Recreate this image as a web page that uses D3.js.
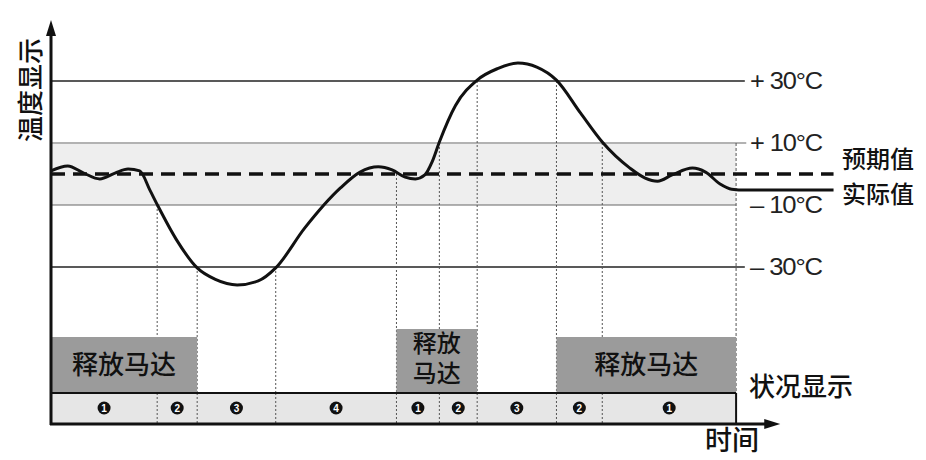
<!DOCTYPE html>
<html>
<head>
<meta charset="utf-8">
<script src="https://cdn.jsdelivr.net/npm/d3@7"></script>
<style>
  body { margin: 0; background: #fff; }
  svg { display: block; }
  .cjk { font-family: "Noto Sans CJK SC", sans-serif; font-weight: 500; fill: #111; }
  .deg { font-family: "Liberation Sans Narrow", "Liberation Sans", sans-serif; fill: #222; }
</style>
</head>
<body>
<div id="plot"></div>
<script>
// actual temperature curve (time in arbitrary units, temperature in deg C)
const curveTime = [0, 2.3, 4.5, 6.7, 8.8, 10.6, 12.2, 13.6, 14.7, 17.2, 20.1, 22.6, 25.6, 28.5, 30.9,
  34.9, 39.8, 42.5, 45.0, 46.9, 48.7, 50.1, 51.4, 52.4, 53.4, 55.6, 58.6, 61.4, 64.2, 66.8, 69.5,
  72.8, 75.8, 79.6, 81.7, 83.4, 85.4, 88.2, 90.0, 92.0, 93.6, 95.5, 100, 107.6];
const curveTemp = [1.0, 2.6, 0.3, -1.6, 0.3, 1.6, 1.0, -5.2, -10.3, -21, -30.3, -34, -35.8, -34.5, -30.3,
  -17.4, -4.5, 0.6, 2.3, 1.3, -1.0, -1.6, -0.3, 3.9, 10.3, 22, 30.3, 34, 35.8, 34.5, 30.3,
  19.7, 10.3, 1.9, -1.3, -2.3, -0.3, 1.9, 0.6, -3.2, -4.9, -5.2, -5.2, -5.2];

const levels = [30, 10, -10, -30];
const levelLabels = ["+ 30°C", "+ 10°C", "– 10°C", "– 30°C"];
const expected = 0;

// phase boundaries on the time axis, with the temperature where each guide starts
const phaseBounds = [0, 14.6, 20.1, 30.9, 47.5, 53.4, 58.6, 69.5, 75.8, 94.2];
const guideTemp = [null, -10, -30, -30, 0, 10, 30, 30, 10, 10];
const phaseLabels = ["1", "2", "3", "4", "1", "2", "3", "2", "1"];

// motor release blocks: [start, end, lines]
const motorStart = [0, 47.5, 69.5];
const motorEnd = [20.1, 58.6, 94.2];
const motorText = [["释放马达"], ["释放", "马达"], ["释放马达"]];

const w = 926, h = 460;
const x = d3.scaleLinear().domain([0, 110]).range([51, 851]);
const y = d3.scaleLinear().domain([-50, 50]).range([329, 19]);

const svg = d3.select("#plot").append("svg").attr("width", w).attr("height", h);

const stripTop = 393, stripBottom = 423;
const xEnd = x(100);

// light band between +10 and -10
svg.append("rect")
  .attr("x", x(0)).attr("y", y(10) + 1)
  .attr("width", x(94.2) - x(0)).attr("height", y(-10) - y(10) - 1)
  .attr("fill", "#eeeeee");

// threshold lines
const lineEnd = [95.4, 95.6, 94.2, 95.4];
svg.selectAll(".level").data(levels).enter().append("line")
  .attr("x1", x(0)).attr("x2", (d, i) => x(lineEnd[i]))
  .attr("y1", d => y(d)).attr("y2", d => y(d))
  .attr("stroke", (d, i) => Math.abs(d) === 30 ? "#222" : "#666")
  .attr("stroke-width", (d) => Math.abs(d) === 30 ? 1.5 : 1.2);

svg.selectAll(".lvl-text").data(levels).enter().append("text")
  .attr("class", "deg")
  .attr("x", 750)
  .attr("y", d => y(d) + 8)
  .attr("font-size", 23)
  .attr("letter-spacing", -1)
  .attr("textLength", 72)
  .attr("lengthAdjust", "spacingAndGlyphs")
  .text((d, i) => levelLabels[i]);

// guide lines down to the status strip
svg.selectAll(".guide").data(phaseBounds.slice(1)).enter().append("line")
  .attr("x1", d => x(d)).attr("x2", d => x(d))
  .attr("y1", (d, i) => y(guideTemp[i + 1]))
  .attr("y2", stripBottom)
  .attr("stroke", "#555").attr("stroke-width", 1)
  .attr("stroke-dasharray", (d, i) => i === phaseBounds.length - 2 ? "3,2" : "2,2");

// motor release blocks
motorStart.forEach((s, i) => {
  const top = motorText[i].length > 1 ? 329 : 337;
  svg.append("rect")
    .attr("x", x(s)).attr("y", top)
    .attr("width", x(motorEnd[i]) - x(s)).attr("height", stripTop - top)
    .attr("fill", "#9b9b9b");
  const cx = (x(s) + x(motorEnd[i])) / 2;
  const lines = motorText[i];
  lines.forEach((t, j) => {
    svg.append("text").attr("class", "cjk")
      .attr("text-anchor", "middle")
      .attr("font-size", lines.length > 1 ? 24 : 26)
      .attr("x", cx)
      .attr("y", lines.length > 1 ? 352 + j * 30 : 374)
      .text(t);
  });
});

// status strip
svg.append("rect")
  .attr("x", x(0)).attr("y", stripTop)
  .attr("width", x(94.2) - x(0)).attr("height", stripBottom - stripTop)
  .attr("fill", "#e6e6e6");
svg.selectAll(".divider").data(phaseBounds.slice(1, -1)).enter().append("line")
  .attr("x1", d => x(d)).attr("x2", d => x(d))
  .attr("y1", stripTop).attr("y2", stripBottom)
  .attr("stroke", "#555").attr("stroke-width", 1).attr("stroke-dasharray", "2,2");
svg.append("line")
  .attr("x1", x(0)).attr("x2", x(94.2))
  .attr("y1", stripTop).attr("y2", stripTop)
  .attr("stroke", "#111").attr("stroke-width", 2.2);
svg.append("line")
  .attr("x1", x(94.2)).attr("x2", x(94.2))
  .attr("y1", stripTop).attr("y2", stripBottom)
  .attr("stroke", "#111").attr("stroke-width", 2);

const badge = svg.selectAll(".badge").data(phaseLabels).enter().append("g")
  .attr("transform", (d, i) => "translate(" + (x(phaseBounds[i]) + x(phaseBounds[i + 1])) / 2 + "," + 408 + ")");
badge.append("circle").attr("r", 6.5).attr("fill", "#111");
badge.append("text")
  .attr("text-anchor", "middle").attr("y", 3.5)
  .attr("font-family", "Liberation Sans, sans-serif").attr("font-weight", "bold")
  .attr("font-size", 10).attr("fill", "#fff")
  .text(d => d);

// expected value (dashed)
svg.append("line")
  .attr("x1", x(0)).attr("x2", x(107.6))
  .attr("y1", y(expected)).attr("y2", y(expected))
  .attr("stroke", "#111").attr("stroke-width", 3.5)
  .attr("stroke-dasharray", "14,8");

// actual value curve
const line = d3.line()
  .x((d, i) => x(curveTime[i]))
  .y((d, i) => y(curveTemp[i]))
  .curve(d3.curveMonotoneX);
svg.append("path")
  .datum(curveTime)
  .attr("d", line)
  .attr("fill", "none")
  .attr("stroke", "#111")
  .attr("stroke-width", 3);

// axes with arrows
svg.append("line")
  .attr("x1", x(0)).attr("x2", x(0))
  .attr("y1", stripBottom + 2).attr("y2", 30)
  .attr("stroke", "#111").attr("stroke-width", 3);
svg.append("path")
  .attr("d", "M" + x(0) + ",20 L" + (x(0) - 5) + ",36 L" + (x(0) + 5) + ",36 Z")
  .attr("fill", "#111");
svg.append("line")
  .attr("x1", x(0) - 1).attr("x2", xEnd - 8)
  .attr("y1", stripBottom + 1).attr("y2", stripBottom + 1)
  .attr("stroke", "#111").attr("stroke-width", 3);
svg.append("path")
  .attr("d", "M" + (xEnd + 2) + "," + (stripBottom + 1) + " L" + (xEnd - 14) + "," + (stripBottom - 4) +
    " L" + (xEnd - 14) + "," + (stripBottom + 6) + " Z")
  .attr("fill", "#111");

// titles and legend
svg.append("text").attr("class", "cjk")
  .attr("transform", "translate(40,90) rotate(-90)")
  .attr("text-anchor", "middle").attr("font-size", 26).attr("font-weight", 700)
  .text("温度显示");
svg.append("text").attr("class", "cjk").attr("x", 842).attr("y", 168).attr("font-size", 24).text("预期值");
svg.append("text").attr("class", "cjk").attr("x", 842).attr("y", 203).attr("font-size", 24).text("实际值");
svg.append("text").attr("class", "cjk").attr("x", 749).attr("y", 396).attr("font-size", 26).text("状况显示");
svg.append("text").attr("class", "cjk").attr("x", 705).attr("y", 450).attr("font-size", 27).text("时间");
</script>
</body>
</html>
